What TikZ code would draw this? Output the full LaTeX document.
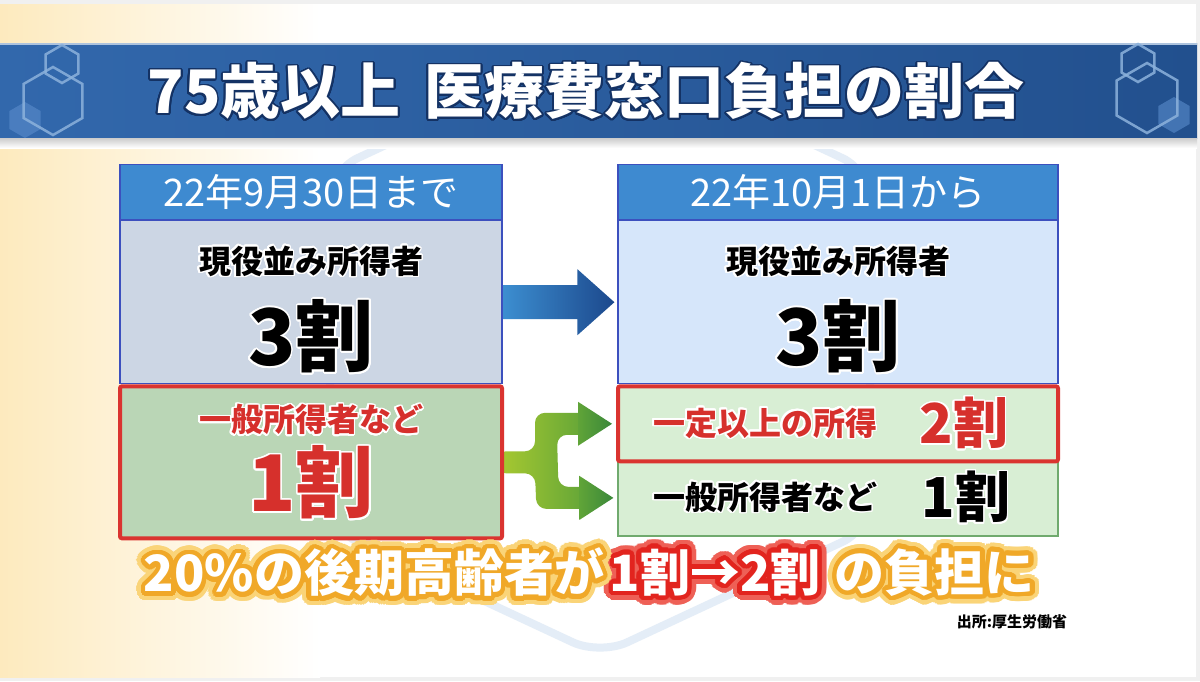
\documentclass[tikz,border=0pt]{standalone}
\usepackage{fontspec}
\usepackage{contour}
\usetikzlibrary{positioning, calc}
\newfontfamily\jpfont{Noto Sans CJK JP}
\contournumber{32}

\definecolor{headblue}{RGB}{62,138,208}
\definecolor{boxblue}{RGB}{60,80,190}
\definecolor{oldgray}{RGB}{204,214,228}
\definecolor{newblue}{RGB}{214,230,250}
\definecolor{oldgreen}{RGB}{186,214,182}
\definecolor{newgreen}{RGB}{216,238,212}
\definecolor{edgegreen}{RGB}{112,170,110}
\definecolor{rimred}{RGB}{218,52,48}
\definecolor{textred}{RGB}{214,48,44}
\definecolor{titleA}{RGB}{50,104,172}
\definecolor{titleB}{RGB}{34,80,142}
\definecolor{titleedge}{RGB}{20,50,100}
\definecolor{hexline}{RGB}{140,178,220}
\definecolor{hexfill}{RGB}{90,140,204}
\definecolor{warm}{RGB}{253,234,190}
\definecolor{faintblue}{RGB}{228,237,247}
\definecolor{bluearrA}{RGB}{62,146,212}
\definecolor{bluearrB}{RGB}{28,72,140}
\definecolor{forkA}{RGB}{170,202,48}
\definecolor{forkB}{RGB}{96,164,56}
\definecolor{forkC}{RGB}{58,136,58}
\definecolor{glowor}{RGB}{240,168,40}
\definecolor{glowsoft}{RGB}{250,212,120}
\definecolor{glowred}{RGB}{226,36,30}
\definecolor{glowpink}{RGB}{238,96,86}

\newcommand{\jpsize}[1]{\jpfont\fontsize{#1}{#1}\selectfont}
\newcommand{\edged}[2]{\contourlength{1.6pt}\contour{#1}{#2}}
\newcommand{\glowtext}[3]{\rlap{\contourlength{9pt}\contour{#2}{#3}}\contourlength{4.5pt}\contour{#1}{#3}}

\pgfdeclarelayer{back}
\pgfdeclarelayer{arrowlayer}
\pgfsetlayers{back,arrowlayer,main}

\tikzstyle{headbox} = [rectangle, minimum height=55, inner sep=0pt,
fill=headblue, draw=boxblue, line width=1.2pt,
text=white, font=\jpsize{38}]
\tikzstyle{upperbox} = [rectangle, minimum height=163, inner sep=0pt,
draw=boxblue, line width=1.2pt]
\tikzstyle{redbox} = [rectangle, inner sep=0pt,
draw=rimred, line width=4pt, rounded corners=2pt]
\tikzstyle{greenbox} = [rectangle, inner sep=0pt,
fill=newgreen, draw=edgegreen, line width=1.2pt]
\tikzstyle{kindtext} = [inner sep=0pt, font=\jpsize{32}\bfseries]
\tikzstyle{ratetext} = [inner sep=0pt, font=\jpsize{78}\bfseries]
\tikzstyle{sumtext} = [inner sep=0pt, text=white, font=\jpsize{50}\bfseries]
\tikzstyle{hexa} = [draw=hexline, line width=2.5pt, opacity=0.85]

\begin{document}
\begin{tikzpicture}[x=1pt, y=-1pt]
        \useasboundingbox (0,0) rectangle (1200,681);

        % fond
        \begin{pgfonlayer}{back}
        \fill[gray!12] (0,0) rectangle (1200,681);
        \fill[white] (0,4) rectangle (1196,677);
        \shade[left color=warm, right color=white] (0,4) rectangle (320,677);
        \draw[faintblue, line width=8pt, rounded corners=30pt] (600,45) -- (330,171) -- (330,529) -- (600,655) -- (870,529) -- (870,171) -- cycle;
        \end{pgfonlayer}

        % bandeau du titre
        \shade[left color=titleA, right color=titleB] (0,43) rectangle (1197,138);
        \draw[white!60!titleA, line width=1.5pt] (0,44) -- (1197,44);
        \shade[top color=gray!40, bottom color=white] (0,138) rectangle (1197,148);
        \fill[hexfill, opacity=0.6] (25,120) +(90:18) -- +(150:18) -- +(210:18) -- +(270:18) -- +(330:18) -- +(30:18) -- cycle;
        \draw[hexa] (53,101) +(90:34) -- +(150:34) -- +(210:34) -- +(270:34) -- +(330:34) -- +(30:34) -- cycle;
        \draw[hexa] (62,64) +(90:19) -- +(150:19) -- +(210:19) -- +(270:19) -- +(330:19) -- +(30:19) -- cycle;
        \fill[hexfill, opacity=0.6] (1174,115) +(90:18) -- +(150:18) -- +(210:18) -- +(270:18) -- +(330:18) -- +(30:18) -- cycle;
        \draw[hexa] (1147,98) +(90:35) -- +(150:35) -- +(210:35) -- +(270:35) -- +(330:35) -- +(30:35) -- cycle;
        \draw[hexa] (1138,63) +(90:19) -- +(150:19) -- +(210:19) -- +(270:19) -- +(330:19) -- +(30:19) -- cycle;
        \node (title) [inner sep=0pt, text=white, font=\jpsize{60}\bfseries] at (586,92) {\edged{titleedge}{75歳以上\hspace{24pt}医療費窓口負担の割合}};

        % avant
        \node (oldhead) [headbox, minimum width=382] at (311,192) {22年9月30日まで};
        \node (oldupper) [upperbox, fill=oldgray, minimum width=382, below=0pt of oldhead] {};
        \node (oldlower) [redbox, fill=oldgreen, minimum width=382, minimum height=152, below=0pt of oldupper] {};
        \node (oldrich) [kindtext] at ([yshift=-42pt]oldupper.north) {\edged{white}{現役並み所得者}};
        \node (oldrate) [ratetext] at ([yshift=-117pt]oldupper.north) {\edged{white}{3割}};
        \node (oldgeneral) [kindtext, text=textred] at ([yshift=-36pt]oldlower.north) {\edged{white}{一般所得者など}};
        \node (oldone) [ratetext, text=textred] at ([yshift=-99pt]oldlower.north) {\edged{white}{1割}};

        % apres
        \node (newhead) [headbox, minimum width=440] at (838,192) {22年10月1日から};
        \node (newupper) [upperbox, fill=newblue, minimum width=440, below=0pt of newhead] {};
        \node (newlow) [greenbox, minimum width=440, minimum height=76, below=75pt of newupper] {};
        \node (newmid) [redbox, fill=newgreen, minimum width=440, minimum height=75, below=0pt of newupper] {};
        \node (newrich) [kindtext] at ([yshift=-42pt]newupper.north) {\edged{white}{現役並み所得者}};
        \node (newrate) [ratetext] at ([yshift=-117pt]newupper.north) {\edged{white}{3割}};
        \node (midtext) [kindtext, text=textred] at ([xshift=-73pt]newmid.center) {\edged{white}{一定以上の所得}};
        \node (midrate) [ratetext, font=\jpsize{55}\bfseries, text=textred] at ([xshift=126pt]newmid.center) {\edged{white}{2割}};
        \node (lowtext) [kindtext] at ([xshift=-73pt]newlow.center) {\edged{white}{一般所得者など}};
        \node (lowrate) [ratetext, font=\jpsize{55}\bfseries] at ([xshift=128pt]newlow.center) {\edged{white}{1割}};

        % fleches
        \begin{pgfonlayer}{arrowlayer}
        \shade[left color=bluearrA, right color=bluearrB]
            ($(oldupper.east)+(-6,-17)$) -- ($(newupper.west)+(-40,-17)$) -- ($(newupper.west)+(-40,-33)$)
            -- ($(newupper.west)+(-3,0)$) -- ($(newupper.west)+(-40,33)$) -- ($(newupper.west)+(-40,17)$)
            -- ($(oldupper.east)+(-6,17)$) -- cycle;
        \shade[left color=forkA, right color=forkB, rounded corners=10pt]
            ($(oldlower.east)+(-8,-11)$) -- ($(newmid.west |- oldlower.east)+(-81,-11)$)
            -- ($(newmid.west)+(-81,-11)$) -- ($(newmid.west)+(-28,-11)$)
            -- ($(newmid.west)+(-28,11)$) -- ($(newmid.west)+(-59,11)$)
            -- ($(newlow.west)+(-59,-11)$) -- ($(newlow.west)+(-28,-11)$)
            -- ($(newlow.west)+(-28,11)$) -- ($(newlow.west)+(-81,11)$)
            -- ($(newmid.west |- oldlower.east)+(-81,11)$) -- ($(oldlower.east)+(-8,11)$) -- cycle;
        \shade[left color=forkB, right color=forkC] ($(newmid.west)+(-38,-22)$) -- ($(newmid.west)+(-4,0)$) -- ($(newmid.west)+(-38,22)$) -- cycle;
        \shade[left color=forkB, right color=forkC] ($(newlow.west)+(-38,-22)$) -- ($(newlow.west)+(-4,0)$) -- ($(newlow.west)+(-38,22)$) -- cycle;
        \end{pgfonlayer}

        % bilan
        \node (sumred) [sumtext] at (715,577) {\glowtext{glowred}{glowpink}{1割→2割}};
        \node (sumleft) [sumtext, left=5pt of sumred] {\glowtext{glowor}{glowsoft}{20\%の後期高齢者が}};
        \node (sumright) [sumtext, right=14pt of sumred] {\glowtext{glowor}{glowsoft}{の負担に}};
        \node (source) [inner sep=0pt, font=\jpsize{15}\bfseries] at (1012,622) {出所:厚生労働省};

\end{tikzpicture}
\end{document}
